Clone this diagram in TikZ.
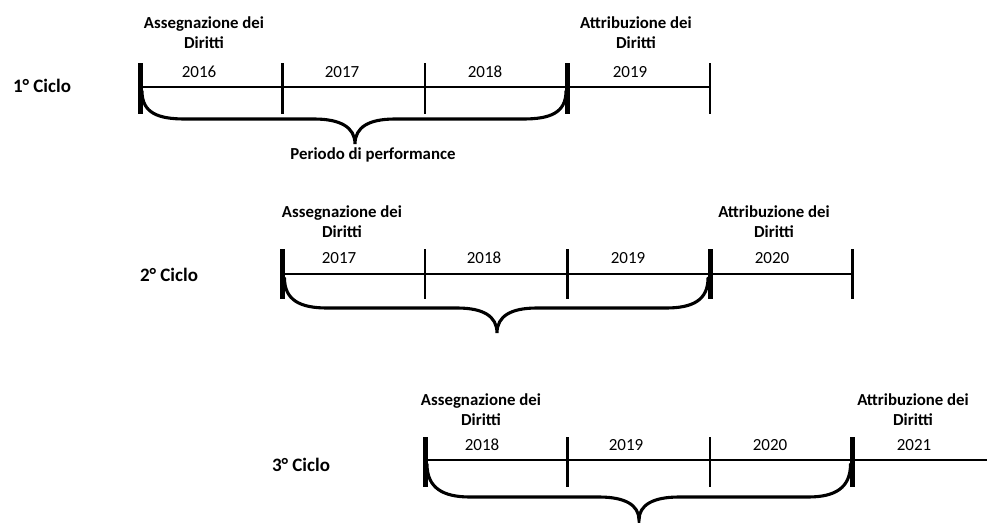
\documentclass[tikz,border=0pt]{standalone}
\usepackage{fontspec}
\setmainfont{Carlito}
\usepackage{tikz}

\tikzset{
  axisline/.style={line width=2.3pt},
  yeartick/.style={line width=2.1pt},
  bar/.style={line width=5pt},
  brace/.style={line width=3.1pt, line cap=round},
  event/.style={font=\bfseries\fontsize{16.8}{20}\selectfont, align=center},
  yr/.style={font=\fontsize{17}{19}\selectfont},
  cyc/.style={font=\bfseries\fontsize{19}{21}\selectfont},
}

\begin{document}
\begin{tikzpicture}[x=1pt, y=-1pt]
    \useasboundingbox (0,0) rectangle (987,522);

    % 1st cycle
    \begin{scope}[shift={(0,87)}]
        \node[cyc] at (42,-1) {1° Ciclo};
        \draw[axisline] (140,0) -- (710,0);
        \draw[bar] (140,-24) -- (140,27);
        \draw[bar] (567.5,-24) -- (567.5,27);
        \draw[yeartick] (282.5,-24) -- (282.5,27);
        \draw[yeartick] (425,-24) -- (425,27);
        \draw[yeartick] (710,-24) -- (710,27);
        \node[yr] at (199,-15) {2016};
        \node[yr] at (342,-15) {2017};
        \node[yr] at (485,-15) {2018};
        \node[yr] at (630,-15) {2019};
        \node[event] at (204,-54) {Assegnazione dei\\Diritti};
        \node[event] at (636,-54) {Attribuzione dei\\Diritti};
        % Performance period brace
        \draw[brace] (142,4) .. controls (142,26) and (158,32) .. (185,32) -- (314,32)
            .. controls (340,32) and (355,40) .. (355,57)
            .. controls (355,40) and (369,32) .. (395,32) -- (523,32)
            .. controls (550,32) and (566,26) .. (566,4);
        \node[event] at (373,68) {Periodo di performance};
    \end{scope}

    % 2nd cycle
    \begin{scope}[shift={(0,274)}]
        \node[cyc] at (169,1) {2° Ciclo};
        \draw[axisline] (282.5,0) -- (852.5,0);
        \draw[bar] (282.5,-25) -- (282.5,25);
        \draw[bar] (710,-25) -- (710,25);
        \draw[yeartick] (425,-25) -- (425,25);
        \draw[yeartick] (567.5,-25) -- (567.5,25);
        \draw[yeartick] (852.5,-25) -- (852.5,25);
        \node[yr] at (339,-16) {2017};
        \node[yr] at (484,-16) {2018};
        \node[yr] at (628,-16) {2019};
        \node[yr] at (772,-16) {2020};
        \node[event] at (342,-52) {Assegnazione dei\\Diritti};
        \node[event] at (774,-52) {Attribuzione dei\\Diritti};
        % Performance period brace
        \draw[brace] (284.5,4) .. controls (284.5,26) and (300,34) .. (327,34) -- (457,34)
            .. controls (483,34) and (497,42) .. (497,59)
            .. controls (497,42) and (511,34) .. (537,34) -- (666,34)
            .. controls (693,34) and (708,26) .. (708,4);
    \end{scope}

    % 3rd cycle
    \begin{scope}[shift={(0,460)}]
        \node[cyc] at (301,5) {3° Ciclo};
        \draw[axisline] (425,0) -- (987,0);
        \draw[bar] (425,-23) -- (425,27);
        \draw[bar] (852.5,-23) -- (852.5,27);
        \draw[yeartick] (567.5,-23) -- (567.5,27);
        \draw[yeartick] (710,-23) -- (710,27);
        \node[yr] at (482,-15) {2018};
        \node[yr] at (626,-15) {2019};
        \node[yr] at (770,-15) {2020};
        \node[yr] at (914,-15) {2021};
        \node[event] at (481,-50) {Assegnazione dei\\Diritti};
        \node[event] at (913,-50) {Attribuzione dei\\Diritti};
        % Performance period brace
        \draw[brace] (427,4) .. controls (427,28) and (443,37) .. (470,37) -- (599,37)
            .. controls (625,37) and (639,45) .. (639,60)
            .. controls (639,45) and (653,37) .. (679,37) -- (808,37)
            .. controls (835,37) and (850.5,28) .. (850.5,4);
    \end{scope}
\end{tikzpicture}
\end{document}
